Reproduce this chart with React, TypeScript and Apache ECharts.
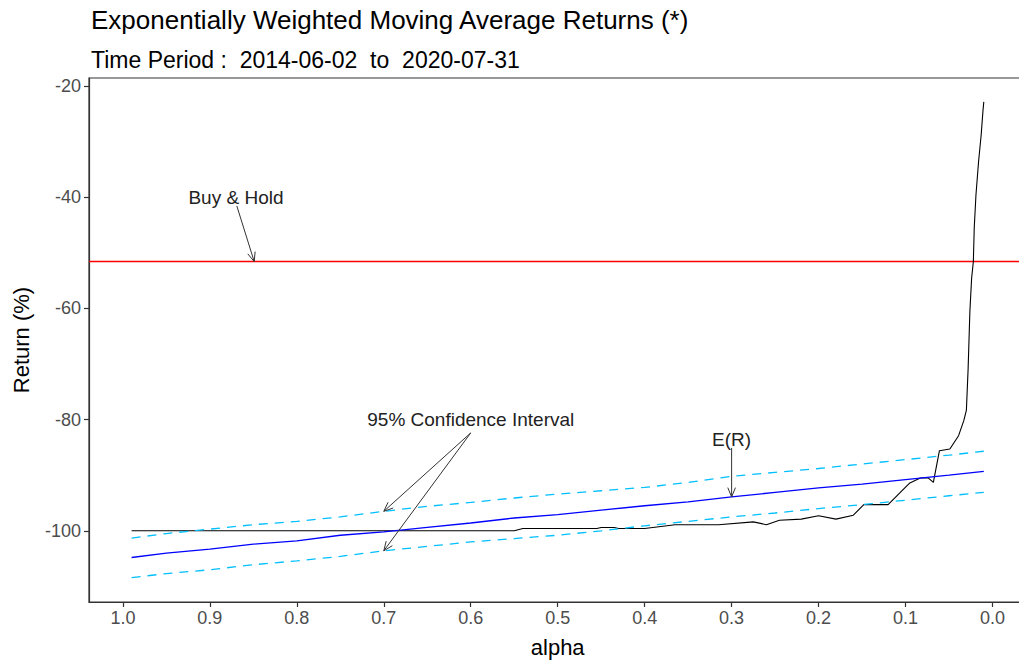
import { useEffect, useRef } from "react";
import * as echarts from "echarts";

// Smoothing parameter grid for the expected-return band
const alphaGrid = [0.99, 0.95, 0.9, 0.85, 0.8, 0.75, 0.7, 0.65, 0.6, 0.55, 0.5, 0.45, 0.4, 0.35, 0.3, 0.25, 0.2, 0.15, 0.1, 0.05, 0.01];
const expectedReturn = [-104.8, -104.0, -103.3, -102.4, -101.8, -100.8, -100.2, -99.4, -98.6, -97.7, -97.1, -96.3, -95.5, -94.8, -93.9, -93.1, -92.3, -91.6, -90.8, -90.0, -89.3];
const upperCI = [-101.3, -100.5, -99.7, -98.9, -98.3, -97.5, -96.5, -95.6, -94.9, -94.1, -93.4, -92.8, -92.2, -91.3, -90.2, -89.5, -88.8, -88.0, -87.2, -86.4, -85.7];
const lowerCI = [-108.4, -107.7, -107.0, -106.1, -105.4, -104.6, -103.6, -102.8, -102.0, -101.4, -100.8, -100.0, -99.1, -98.3, -97.5, -96.8, -96.0, -95.3, -94.5, -93.7, -93.1];

// EWMA strategy return by alpha
const ewmaAlpha = [0.99, 0.55, 0.54, 0.455, 0.45, 0.435, 0.43, 0.4, 0.365, 0.315, 0.275, 0.26, 0.245, 0.22, 0.2, 0.18, 0.16, 0.148, 0.12, 0.106, 0.095, 0.083, 0.074, 0.068, 0.061, 0.049, 0.039, 0.033, 0.03, 0.028, 0.026, 0.024, 0.022, 0.021, 0.019, 0.016, 0.013, 0.011, 0.01];
const ewmaReturn = [-100.0, -100.0, -99.6, -99.6, -99.4, -99.4, -99.6, -99.6, -98.9, -98.9, -98.4, -98.9, -98.1, -97.9, -97.3, -97.9, -97.2, -95.3, -95.3, -93.1, -91.4, -90.5, -90.5, -91.3, -85.6, -85.3, -82.9, -80.2, -78.3, -70.8, -60.6, -54.6, -51.6, -45.6, -39.6, -33.6, -28.8, -24.6, -22.9];

const buyHoldReturn = -51.6;

// Panel extent (data range plus padding)
const xMin = -0.039;
const xMax = 1.039;
const yMin = -112.8;
const yMax = -18.6;

// Axis ticks
const xTickValues = [1.0, 0.9, 0.8, 0.7, 0.6, 0.5, 0.4, 0.3, 0.2, 0.1, 0.0];
const yTickValues = [-100, -80, -60, -40, -20];

// Annotations
const noteText = ["Buy & Hold", "95% Confidence Interval", "E(R)"];
const noteAlpha = [0.87, 0.6, 0.3];
const noteReturn = [-40.0, -80.0, -83.5];

const ciIdx = alphaGrid.indexOf(0.7);
const erIdx = alphaGrid.indexOf(0.3);
const arrowFromAlpha = [0.869, 0.6, 0.6, 0.3];
const arrowFromReturn = [-41.6, -82.4, -82.4, -85.1];
const arrowToAlpha = [0.849, 0.7, 0.7, 0.3];
const arrowToReturn = [buyHoldReturn, upperCI[ciIdx], lowerCI[ciIdx], expectedReturn[erIdx]];

const FONT = "'Liberation Sans', Arial, Helvetica, sans-serif";

const pair = (xs: number[], ys: number[]) => xs.map((x, i) => [x, ys[i]]);

function arrowShape(p1: number[], p2: number[], color: string) {
  const ang = Math.atan2(p2[1] - p1[1], p2[0] - p1[0]);
  const len = 10;
  const spread = Math.PI / 8;
  const h1 = [p2[0] - len * Math.cos(ang - spread), p2[1] - len * Math.sin(ang - spread)];
  const h2 = [p2[0] - len * Math.cos(ang + spread), p2[1] - len * Math.sin(ang + spread)];
  return {
    type: "group",
    children: [
      { type: "line", shape: { x1: p1[0], y1: p1[1], x2: p2[0], y2: p2[1] }, style: { stroke: color, lineWidth: 1 } },
      { type: "polyline", shape: { points: [h1, p2, h2] }, style: { stroke: color, fill: "none", lineWidth: 1 } },
    ],
  };
}

export default function App() {
  const ref = useRef<HTMLDivElement>(null);

  useEffect(() => {
    if (!ref.current) return;
    const chart = echarts.init(ref.current, null, { renderer: "svg" });

    const axisLineStyle = { color: "#333333", width: 1.2 };
    const tickLabel = { color: "#4d4d4d", fontSize: 18, fontFamily: FONT };

    chart.setOption({
      animation: false,
      backgroundColor: "#ffffff",
      textStyle: { fontFamily: FONT },
      title: [
        {
          text: "Exponentially Weighted Moving Average Returns (*)",
          left: 86,
          top: 2,
          textStyle: { fontSize: 26, fontWeight: "normal", color: "#000000", fontFamily: FONT },
        },
        {
          text: "Time Period :  2014-06-02  to  2020-07-31",
          left: 86,
          top: 43,
          textStyle: { fontSize: 23, fontWeight: "normal", color: "#000000", fontFamily: FONT },
        },
      ],
      grid: {
        left: 89,
        top: 78,
        right: -7.4,
        bottom: 61,
        show: true,
        borderColor: "#333333",
        borderWidth: 1.2,
        outerBoundsMode: "none",
      },
      xAxis: {
        type: "value",
        inverse: true,
        min: xMin,
        max: xMax,
        name: "alpha",
        nameLocation: "middle",
        nameGap: 34,
        nameTextStyle: { fontSize: 22, color: "#000000", fontFamily: FONT },
        axisLine: { show: true, onZero: false, lineStyle: axisLineStyle },
        axisTick: { show: true, length: 5, customValues: xTickValues, lineStyle: axisLineStyle },
        axisLabel: { ...tickLabel, margin: 7, customValues: xTickValues, formatter: (v: number) => v.toFixed(1) },
        splitLine: { show: false },
      },
      yAxis: {
        type: "value",
        min: yMin,
        max: yMax,
        name: "Return (%)",
        nameLocation: "middle",
        nameGap: 57,
        nameTextStyle: { fontSize: 22, color: "#000000", fontFamily: FONT },
        axisLine: { show: true, onZero: false, lineStyle: axisLineStyle },
        axisTick: { show: true, length: 5, customValues: yTickValues, lineStyle: axisLineStyle },
        axisLabel: { ...tickLabel, margin: 8, customValues: yTickValues, formatter: (v: number) => String(v) },
        splitLine: { show: false },
      },
      series: [
        {
          type: "line",
          name: "Buy & Hold",
          data: [
            [xMax, buyHoldReturn],
            [xMin, buyHoldReturn],
          ],
          showSymbol: false,
          symbol: "none",
          itemStyle: { color: "#ff0000" },
          lineStyle: { color: "#ff0000", width: 1.5 },
        },
        {
          type: "line",
          name: "EWMA",
          data: pair(ewmaAlpha, ewmaReturn),
          showSymbol: false,
          symbol: "none",
          lineStyle: { color: "#000000", width: 1.1 },
        },
        {
          type: "line",
          name: "E(R)",
          data: pair(alphaGrid, expectedReturn),
          showSymbol: false,
          symbol: "none",
          lineStyle: { color: "#0000ff", width: 1.3 },
        },
        {
          type: "line",
          name: "Upper 95%",
          data: pair(alphaGrid, upperCI),
          showSymbol: false,
          symbol: "none",
          lineStyle: { color: "#00bfff", width: 1.3, type: [9, 7] },
        },
        {
          type: "line",
          name: "Lower 95%",
          data: pair(alphaGrid, lowerCI),
          showSymbol: false,
          symbol: "none",
          lineStyle: { color: "#00bfff", width: 1.3, type: [9, 7] },
        },
        {
          type: "custom",
          name: "arrows",
          silent: true,
          data: arrowFromAlpha.map((a, i) => [a, arrowFromReturn[i], arrowToAlpha[i], arrowToReturn[i]]),
          encode: { x: [0, 2], y: [1, 3] },
          renderItem: (_params: any, api: any) => {
            const p1 = api.coord([api.value(0), api.value(1)]);
            const p2 = api.coord([api.value(2), api.value(3)]);
            return arrowShape(p1, p2, "#333333");
          },
          z: 5,
        },
        {
          type: "custom",
          name: "notes",
          silent: true,
          data: noteAlpha.map((a, i) => [a, noteReturn[i]]),
          encode: { x: 0, y: 1 },
          renderItem: (params: any, api: any) => {
            const p = api.coord([api.value(0), api.value(1)]);
            return {
              type: "text",
              x: p[0],
              y: p[1],
              style: {
                text: noteText[params.dataIndex],
                fontSize: 19,
                fontFamily: FONT,
                fill: "#222222",
                align: "center",
                verticalAlign: "middle",
              },
            };
          },
          z: 6,
        },
      ],
    });

    return () => chart.dispose();
  }, []);

  return (
    <div
      ref={ref}
      style={{ position: "fixed", left: 0, top: 0, width: 1019, height: 663, background: "#fff" }}
    />
  );
}
